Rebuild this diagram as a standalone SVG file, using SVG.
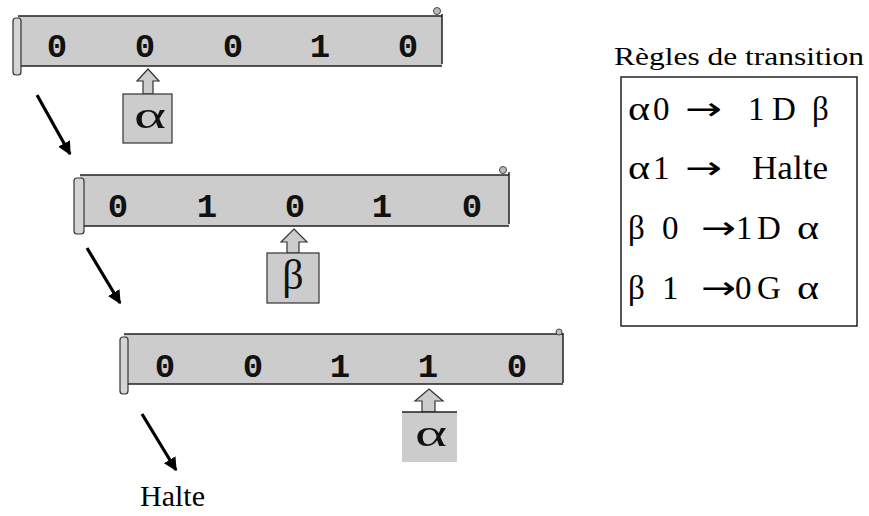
<svg xmlns="http://www.w3.org/2000/svg" width="869" height="516" viewBox="0 0 869 516">
<defs>
<style>
.tape{fill:#cccccc;stroke:none}
.edge{stroke:#222;stroke-width:1.5;fill:none}
.roll{fill:#d4d4d4;stroke:#333;stroke-width:1.2}
.knob{fill:#bbb;stroke:#444;stroke-width:1}
.dig{font-family:"Liberation Mono",monospace;font-weight:bold;font-size:34px;fill:#111;text-anchor:middle}
.head{fill:#cccccc;stroke:#333;stroke-width:1.2}
.greek{font-family:"Liberation Serif",serif;font-size:38px;fill:#111;text-anchor:middle}
.rule{font-family:"Liberation Serif",serif;font-size:33px;fill:#000}
.arr{font-family:"DejaVu Sans",sans-serif;font-size:32px;fill:#000}
.conn{stroke:#000;stroke-width:3.2;fill:none}
</style>
<marker id="ah" viewBox="0 0 10 10" refX="9" refY="5" markerWidth="4.2" markerHeight="4.2" orient="auto" markerUnits="strokeWidth">
<path d="M0,0 L10,5 L0,10 z" fill="#000"/>
</marker>
</defs>
<rect width="869" height="516" fill="#fff"/>

<g id="tape1">
<rect class="tape" x="18" y="16" width="424" height="50"/>
<path class="edge" d="M18,16 H442 M18,66 H442 M442,14 V64"/>
<rect class="roll" x="13" y="18" width="8" height="57" rx="3"/>
<circle class="knob" cx="437" cy="11" r="3.5"/>
<text class="dig" x="57" y="57">0</text>
<text class="dig" x="145" y="57">0</text>
<text class="dig" x="233" y="57">0</text>
<text class="dig" x="320" y="57">1</text>
<text class="dig" x="408" y="57">0</text>
</g>
<g id="head1">
<path class="head" d="M148,69 L159,81 L153,81 L153,94 L143,94 L143,81 L137,81 Z"/>
<rect class="head" x="123" y="94" width="49" height="49"/>
<text class="greek" x="150" y="128" textLength="32" lengthAdjust="spacingAndGlyphs">α</text>
</g>

<g id="tape2">
<rect class="tape" x="80" y="175" width="429" height="51"/>
<path class="edge" d="M80,175 H509 M80,226 H509 M509,172 V224"/>
<rect class="roll" x="74" y="178" width="10" height="56" rx="3"/>
<circle class="knob" cx="503" cy="170" r="3.5"/>
<text class="dig" x="118" y="217">0</text>
<text class="dig" x="207" y="217">1</text>
<text class="dig" x="295" y="217">0</text>
<text class="dig" x="382" y="217">1</text>
<text class="dig" x="472" y="217">0</text>
</g>
<g id="head2">
<path class="head" d="M294,229 L307,242 L299,242 L299,253 L287,253 L287,242 L281,242 Z"/>
<rect class="head" x="267" y="253" width="52" height="50"/>
<text class="greek" x="293" y="289" style="font-size:42px">β</text>
</g>

<g id="tape3">
<rect class="tape" x="124" y="334" width="439" height="50"/>
<path class="edge" d="M124,334 H563 M124,384 H563 M563,333 V383"/>
<rect class="roll" x="120" y="337" width="8" height="57" rx="3"/>
<circle class="knob" cx="559" cy="332" r="3"/>
<text class="dig" x="165" y="377">0</text>
<text class="dig" x="253" y="377">0</text>
<text class="dig" x="340" y="377">1</text>
<text class="dig" x="428" y="377">1</text>
<text class="dig" x="517" y="377">0</text>
</g>
<g id="head3">
<path class="head" d="M429,389 L443,401 L435,401 L435,412 L422,412 L422,401 L415,401 Z"/>
<rect x="402" y="412" width="55" height="50" fill="#cccccc"/>
<path class="edge" d="M402,412 H457"/>
<text class="greek" x="431" y="446" textLength="32" lengthAdjust="spacingAndGlyphs">α</text>
</g>

<g id="halte">
<text class="rule" x="140" y="506" style="font-size:30px">Halte</text>
</g>

<g id="rules">
<text class="rule" x="614" y="65" style="font-size:26px" textLength="250" lengthAdjust="spacingAndGlyphs">Règles de transition</text>
<rect x="621" y="77" width="236" height="249" fill="none" stroke="#222" stroke-width="1.5"/>
<text class="rule" x="628" y="120" textLength="22" lengthAdjust="spacingAndGlyphs">α</text><text class="rule" x="653" y="120">0</text><text class="arr" x="685" y="120" textLength="37" lengthAdjust="spacingAndGlyphs">→</text><text class="rule" x="748" y="120">1</text><text class="rule" x="772" y="120">D</text><text class="rule" x="812" y="120">β</text>
<text class="rule" x="628" y="179" textLength="22" lengthAdjust="spacingAndGlyphs">α</text><text class="rule" x="653" y="179">1</text><text class="arr" x="685" y="179" textLength="37" lengthAdjust="spacingAndGlyphs">→</text><text class="rule" x="752" y="179" textLength="76" lengthAdjust="spacingAndGlyphs">Halte</text>
<text class="rule" x="628" y="239">β</text><text class="rule" x="662" y="239">0</text><text class="arr" x="701" y="239" textLength="35" lengthAdjust="spacingAndGlyphs">→</text><text class="rule" x="736" y="239">1</text><text class="rule" x="757" y="239">D</text><text class="rule" x="797" y="239" textLength="22" lengthAdjust="spacingAndGlyphs">α</text>
<text class="rule" x="628" y="299">β</text><text class="rule" x="662" y="299">1</text><text class="arr" x="701" y="299" textLength="35" lengthAdjust="spacingAndGlyphs">→</text><text class="rule" x="735" y="299">0</text><text class="rule" x="757" y="299">G</text><text class="rule" x="797" y="299" textLength="22" lengthAdjust="spacingAndGlyphs">α</text>
</g>

<g id="connectors">
<line class="conn" x1="37" y1="95" x2="70" y2="154" marker-end="url(#ah)"/>
<line class="conn" x1="87" y1="248" x2="120" y2="303" marker-end="url(#ah)"/>
<line class="conn" x1="142" y1="414" x2="176" y2="470" marker-end="url(#ah)"/>
</g>
</svg>
